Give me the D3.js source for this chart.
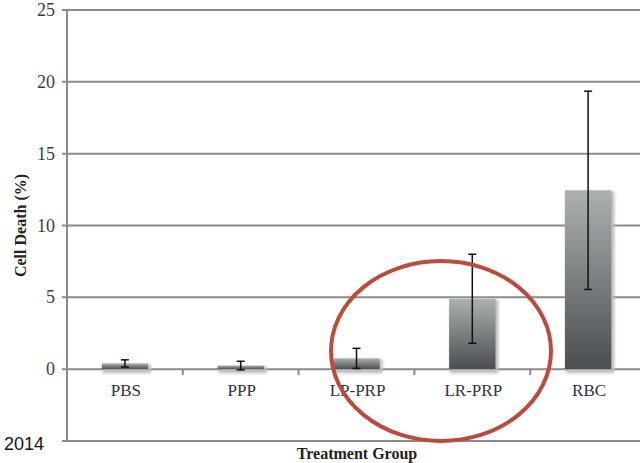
<!DOCTYPE html>
<html lang="en">
<head>
    <meta charset="UTF-8">
    <title>Cell Death by Treatment Group</title>
    <script src="https://d3js.org/d3.v7.min.js"></script>
    <style>
        body { margin: 0; background: #fff; }
    </style>
</head>
<body>
    <svg id="chart" width="640" height="463"></svg>

    <script>
        // Datos
        var groups = ["PBS", "PPP", "LP-PRP", "LR-PRP", "RBC"];
        var means = [0.4, 0.25, 0.75, 4.9, 12.45];
        var errors = [0.25, 0.3, 0.7, 3.1, 6.9];
        var yTicks = [0, 5, 10, 15, 20, 25];

        var svg = d3.select("#chart");

        // Escalas: el eje llega hasta -5 (la etiqueta queda tapada por "2014")
        var x = d3.scaleBand()
            .domain(groups)
            .range([67, 646])
            .paddingInner(0)
            .paddingOuter(0);

        var y = d3.scaleLinear()
            .domain([-5, 25])
            .range([441, 10]);

        var barW = x.bandwidth() * 0.4;
        var grey = "#8a8a8a";

        // Degradado de las barras y sombra
        var defs = svg.append("defs");
        var grad = defs.append("linearGradient")
            .attr("id", "barGrad")
            .attr("x1", 0).attr("y1", 0).attr("x2", 0).attr("y2", 1);
        grad.append("stop").attr("offset", "0%").attr("stop-color", "#adb0b1");
        grad.append("stop").attr("offset", "100%").attr("stop-color", "#4a4e50");

        var shadow = defs.append("filter").attr("id", "shadow")
            .attr("x", "-20%").attr("y", "-20%").attr("width", "140%").attr("height", "140%");
        shadow.append("feGaussianBlur").attr("stdDeviation", 1.5);

        // Lineas de la cuadricula (incluida la de -5 y la de 0)
        svg.selectAll(".grid")
            .data(yTicks.concat([-5]))
            .enter().append("line")
            .attr("class", "grid")
            .attr("x1", 62)
            .attr("x2", 646)
            .attr("y1", d => y(d))
            .attr("y2", d => y(d))
            .attr("stroke", grey)
            .attr("stroke-width", 2);

        // Eje vertical
        svg.append("line")
            .attr("x1", 67).attr("x2", 67)
            .attr("y1", y(25) - 1).attr("y2", y(-5) + 1)
            .attr("stroke", grey)
            .attr("stroke-width", 2);

        // Marcas de categoria sobre la linea de cero
        svg.selectAll(".xtick")
            .data(groups.slice(1))
            .enter().append("line")
            .attr("class", "xtick")
            .attr("x1", d => x(d))
            .attr("x2", d => x(d))
            .attr("y1", y(0))
            .attr("y2", y(0) + 6)
            .attr("stroke", grey)
            .attr("stroke-width", 2);

        // Etiquetas del eje Y
        svg.selectAll(".ylabel")
            .data(yTicks)
            .enter().append("text")
            .attr("class", "ylabel")
            .attr("x", 55)
            .attr("y", d => y(d) + 6)
            .attr("text-anchor", "end")
            .attr("font-family", "Liberation Serif, Times New Roman, serif")
            .attr("font-size", "18px")
            .attr("fill", "#34404f")
            .text(d => d);

        // Barras: halo + sombra + barra
        var bars = svg.selectAll(".bar")
            .data(groups)
            .enter().append("g")
            .attr("class", "bar");

        bars.append("rect")
            .attr("x", (d, i) => x(d) + (x.bandwidth() - barW) / 2 + 1)
            .attr("y", (d, i) => y(means[i]) + 1)
            .attr("width", barW + 2)
            .attr("height", (d, i) => y(0) - y(means[i]) + 3)
            .attr("fill", "#bbbbbb")
            .attr("filter", "url(#shadow)");

        bars.append("rect")
            .attr("x", (d, i) => x(d) + (x.bandwidth() - barW) / 2)
            .attr("y", (d, i) => y(means[i]))
            .attr("width", barW)
            .attr("height", (d, i) => y(0) - y(means[i]))
            .attr("fill", "url(#barGrad)");

        // Barras de error
        var err = svg.selectAll(".err")
            .data(groups)
            .enter().append("g")
            .attr("class", "err")
            .attr("stroke", "#111")
            .attr("stroke-width", 1.5);

        err.append("line")
            .attr("x1", d => x(d) + x.bandwidth() / 2)
            .attr("x2", d => x(d) + x.bandwidth() / 2)
            .attr("y1", (d, i) => y(means[i] + errors[i]))
            .attr("y2", (d, i) => y(means[i] - errors[i]));

        [1, -1].forEach(function(s) {
            err.append("line")
                .attr("x1", d => x(d) + x.bandwidth() / 2 - 4)
                .attr("x2", d => x(d) + x.bandwidth() / 2 + 4)
                .attr("y1", (d, i) => y(means[i] + s * errors[i]))
                .attr("y2", (d, i) => y(means[i] + s * errors[i]));
        });

        // Etiquetas de categoria
        svg.selectAll(".xlabel")
            .data(groups)
            .enter().append("text")
            .attr("class", "xlabel")
            .attr("x", d => x(d) + x.bandwidth() / 2 + 1)
            .attr("y", y(0) + 27)
            .attr("text-anchor", "middle")
            .attr("font-family", "Liberation Serif, Times New Roman, serif")
            .attr("font-size", "17px")
            .attr("fill", "#26324a")
            .text(d => d);

        // Titulos de ejes
        svg.append("text")
            .attr("transform", "translate(26," + y(10) + ") rotate(-90)")
            .attr("text-anchor", "middle")
            .attr("font-family", "Liberation Serif, Times New Roman, serif")
            .attr("font-weight", "bold")
            .attr("font-size", "16px")
            .attr("fill", "#222")
            .text("Cell Death (%)");

        svg.append("text")
            .attr("x", 357)
            .attr("y", 459)
            .attr("text-anchor", "middle")
            .attr("font-family", "Liberation Serif, Times New Roman, serif")
            .attr("font-weight", "bold")
            .attr("font-size", "16px")
            .attr("fill", "#222")
            .text("Treatment Group");

        // Anotacion del año, sobre la etiqueta -5
        svg.append("rect")
            .attr("x", 0).attr("y", 430).attr("width", 60).attr("height", 22)
            .attr("fill", "#fff");
        svg.append("text")
            .attr("x", 4)
            .attr("y", 450)
            .attr("font-family", "Liberation Sans, Arial, sans-serif")
            .attr("font-size", "18px")
            .attr("fill", "#111")
            .text("2014");

        // Elipse roja que resalta LP-PRP / LR-PRP
        svg.append("ellipse")
            .attr("cx", 441)
            .attr("cy", 351)
            .attr("rx", 110)
            .attr("ry", 90)
            .attr("fill", "none")
            .attr("stroke", "#be4a3c")
            .attr("stroke-width", 4);
    </script>
</body>
</html>
